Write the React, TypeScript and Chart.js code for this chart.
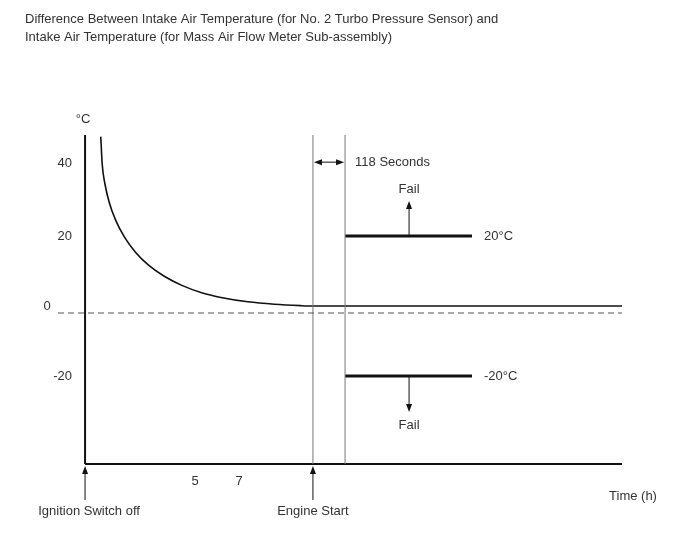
import React, { useEffect, useRef } from 'react';
import { Chart, registerables } from 'chart.js';

Chart.register(...registerables);

const titleLines = [
  'Difference Between Intake Air Temperature (for No. 2 Turbo Pressure Sensor) and',
  'Intake Air Temperature (for Mass Air Flow Meter Sub-assembly)',
];
const yTicks = [40, 20, 0, -20];
const xTicks = [5, 7];
const curveTime = [0.714, 0.78, 0.9, 1.1, 1.4, 1.8, 2.3, 2.9, 3.6, 4.4, 5.3, 6.3, 7.4, 8.6, 9.8, 10.36, 24.41];
const curveTemp = [48.4, 40.5, 35.0, 29.6, 24.4, 19.6, 15.3, 11.6, 8.5, 5.9, 3.8, 2.3, 1.2, 0.5, 0.1, 0, 0];
const ignitionOff = 0;
const engineStart = 10.36;
const delayEnd = 11.82; // 118 seconds after engine start
const thresholdEnd = 17.59;
const failMarker = 14.73;
const thresholdHigh = 20;
const thresholdLow = -20;
const referenceLine = -2;
const xMin = -1.23;
const xMax = 24.41;
const yMin = -45.14;
const yMax = 48.86;

const FONT = '"Liberation Sans", Arial, sans-serif';

function arrow(ctx: CanvasRenderingContext2D, x1: number, y1: number, x2: number, y2: number) {
  const ang = Math.atan2(y2 - y1, x2 - x1);
  const len = 8;
  const half = 3;
  ctx.beginPath();
  ctx.moveTo(x1, y1);
  ctx.lineTo(x2 - Math.cos(ang) * len * 0.8, y2 - Math.sin(ang) * len * 0.8);
  ctx.stroke();
  ctx.beginPath();
  ctx.moveTo(x2, y2);
  ctx.lineTo(x2 - Math.cos(ang) * len - Math.sin(ang) * half, y2 - Math.sin(ang) * len + Math.cos(ang) * half);
  ctx.lineTo(x2 - Math.cos(ang) * len + Math.sin(ang) * half, y2 - Math.sin(ang) * len - Math.cos(ang) * half);
  ctx.closePath();
  ctx.fill();
}

const annotate = {
  id: 'annotate',
  afterDatasetsDraw(chart: any) {
    const { ctx, scales, chartArea } = chart;
    const xs = scales.x;
    const ys = scales.y;
    const x0 = xs.getPixelForValue(ignitionOff);
    const xe = xs.getPixelForValue(engineStart);
    const xd = xs.getPixelForValue(delayEnd);
    const xt = xs.getPixelForValue(thresholdEnd);
    const xf = xs.getPixelForValue(failMarker);
    const yHi = ys.getPixelForValue(thresholdHigh);
    const yLo = ys.getPixelForValue(thresholdLow);
    const bottom = chartArea.bottom;
    const top = chartArea.top;

    ctx.save();
    ctx.fillStyle = '#333';
    ctx.strokeStyle = '#111';
    ctx.lineWidth = 1;
    ctx.textBaseline = 'middle';

    // title
    ctx.font = '13px ' + FONT;
    ctx.textAlign = 'left';
    ctx.fillText(titleLines[0], 17, 11);
    ctx.fillText(titleLines[1], 17, 29);

    // unit
    ctx.textAlign = 'center';
    ctx.fillText('°C', x0 - 2, top - 16);

    // y tick labels
    yTicks.forEach((v) => {
      const py = ys.getPixelForValue(v);
      if (v === 0) {
        ctx.textAlign = 'center';
        ctx.fillText(String(v), x0 - 38, py);
      } else {
        ctx.textAlign = 'right';
        ctx.fillText(String(v), x0 - 13, v === 40 ? py - 3 : py);
      }
    });

    // x tick labels
    ctx.textAlign = 'center';
    xTicks.forEach((v) => {
      ctx.fillText(String(v), xs.getPixelForValue(v), bottom + 17);
    });
    ctx.fillText('Time (h)', chartArea.right + 11, bottom + 32);

    // bottom event arrows
    ctx.fillStyle = '#111';
    arrow(ctx, x0, bottom + 36, x0, bottom + 2);
    arrow(ctx, xe, bottom + 36, xe, bottom + 2);
    ctx.fillStyle = '#333';
    ctx.fillText('Ignition Switch off', x0 + 4, bottom + 47);
    ctx.fillText('Engine Start', xe, bottom + 47);

    // 118 seconds double arrow
    const ya = ys.getPixelForValue(41.1);
    const mid = (xe + xd) / 2;
    ctx.fillStyle = '#111';
    arrow(ctx, mid, ya, xe + 1, ya);
    arrow(ctx, mid, ya, xd - 1, ya);
    ctx.fillStyle = '#333';
    ctx.textAlign = 'left';
    ctx.fillText('118 Seconds', xd + 10, ya);

    // threshold labels
    ctx.fillText('20°C', xt + 12, yHi);
    ctx.fillText('-20°C', xt + 12, yLo);

    // fail arrows
    ctx.fillStyle = '#111';
    arrow(ctx, xf, yHi, xf, yHi - 35);
    arrow(ctx, xf, yLo, xf, yLo + 36);
    ctx.fillStyle = '#333';
    ctx.textAlign = 'center';
    ctx.fillText('Fail', xf, yHi - 47);
    ctx.fillText('Fail', xf, yLo + 49);

    ctx.restore();
  },
};

export default function App() {
  const ref = useRef<HTMLCanvasElement | null>(null);
  useEffect(() => {
    if (!ref.current) return;
    const seg = (pts: [number, number][]) => pts.map(([x, y]) => ({ x, y }));
    const chart = new Chart(ref.current, {
      type: 'scatter',
      data: {
        datasets: [
          {
            label: 'reference',
            data: seg([[xMin, referenceLine], [xMax, referenceLine]]),
            showLine: true,
            borderColor: '#555',
            borderWidth: 1,
            borderDash: [6, 4],
            pointRadius: 0,
            clip: false,
          } as any,
          {
            label: 'engine start',
            data: seg([[engineStart, yMin], [engineStart, yMax]]),
            showLine: true,
            borderColor: '#777',
            borderWidth: 1,
            pointRadius: 0,
            clip: false,
          },
          {
            label: 'delay end',
            data: seg([[delayEnd, yMin], [delayEnd, yMax]]),
            showLine: true,
            borderColor: '#777',
            borderWidth: 1,
            pointRadius: 0,
            clip: false,
          },
          {
            label: 'temperature difference',
            data: curveTime.map((t, i) => ({ x: t, y: curveTemp[i] })),
            showLine: true,
            borderColor: '#111',
            borderWidth: 1.6,
            pointRadius: 0,
            cubicInterpolationMode: 'monotone',
            clip: false,
          },
          {
            label: 'upper threshold',
            data: seg([[delayEnd, thresholdHigh], [thresholdEnd, thresholdHigh]]),
            showLine: true,
            borderColor: '#111',
            borderWidth: 3,
            pointRadius: 0,
            clip: false,
          },
          {
            label: 'lower threshold',
            data: seg([[delayEnd, thresholdLow], [thresholdEnd, thresholdLow]]),
            showLine: true,
            borderColor: '#111',
            borderWidth: 3,
            pointRadius: 0,
            clip: false,
          },
          {
            label: 'y axis',
            data: seg([[ignitionOff, yMin], [ignitionOff, yMax]]),
            showLine: true,
            borderColor: '#111',
            borderWidth: 2,
            pointRadius: 0,
            clip: false,
          },
          {
            label: 'x axis',
            data: seg([[ignitionOff, yMin], [xMax, yMin]]),
            showLine: true,
            borderColor: '#111',
            borderWidth: 2,
            pointRadius: 0,
            clip: false,
          },
        ],
      },
      options: {
        animation: false,
        responsive: false,
        maintainAspectRatio: false,
        layout: { padding: { left: 50, right: 66, top: 127, bottom: 96 } },
        scales: {
          x: { type: 'linear', min: xMin, max: xMax, display: false },
          y: { type: 'linear', min: yMin, max: yMax, display: false },
        },
        plugins: { legend: { display: false }, tooltip: { enabled: false }, title: { display: false } },
        elements: { point: { radius: 0 } },
      },
      plugins: [annotate],
    });
    return () => chart.destroy();
  }, []);
  return (
    <div style={{ width: 680, height: 552 }}>
      <canvas ref={ref} width={680} height={552} style={{ display: 'block', background: '#fff' }} />
    </div>
  );
}
